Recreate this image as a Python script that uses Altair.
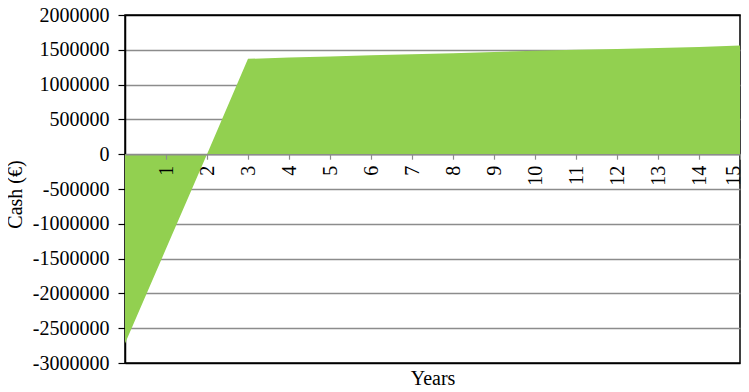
import altair as alt
import pandas as pd

years = [0, 1, 2, 3, 4, 5, 6, 7, 8, 9, 10, 11, 12, 13, 14, 15]
cash = [-2720000, -1360000, 0, 1370000, 1390000, 1405000, 1420000, 1435000,
        1450000, 1470000, 1485000, 1500000, 1510000, 1525000, 1540000, 1560000]
x_labels = [1, 2, 3, 4, 5, 6, 7, 8, 9, 10, 11, 12, 13, 14, 15]
y_ticks = [2000000, 1500000, 1000000, 500000, 0, -500000, -1000000,
           -1500000, -2000000, -2500000, -3000000]

df = pd.DataFrame({"Year": years, "Cash": cash})

W, H = 615, 348
y_min, y_max = -3000000, 2000000
zero_offset = -H * (0 - y_min) / (y_max - y_min)

FONT = "Liberation Serif"

grid_color = {
    "condition": {"test": f"datum.value == {y_max} || datum.value == {y_min}",
                  "value": "black"},
    "value": "#8c8c8c",
}
last_label_offset = {
    "condition": {"test": f"datum.value == {x_labels[-1]}", "value": -7},
    "value": 0,
}

chart = alt.Chart(df).mark_area(color="#92D050", opacity=1).encode(
    x=alt.X("Year:Q",
            scale=alt.Scale(domain=[0, 15], nice=False, zero=False),
            axis=alt.Axis(values=x_labels, labelAngle=270, offset=zero_offset,
                          tickSize=5, tickColor="#8c8c8c", domainColor="#8c8c8c",
                          domainWidth=1.5, tickWidth=1.2,
                          grid=False, labelFlush=False, labelOverlap=False,
                          labelOffset=last_label_offset,
                          labelPadding=6, labelFont=FONT, labelFontSize=20,
                          labelColor="black", zindex=1,
                          title="Years", titleFont=FONT, titleFontSize=20,
                          titleFontWeight="normal", titleColor="black",
                          titleY=230, titleBaseline="alphabetic")),
    y=alt.Y("Cash:Q",
            scale=alt.Scale(domain=[y_min, y_max], nice=False),
            axis=alt.Axis(values=y_ticks, labelExpr="'' + datum.value",
                          tickSize=7, tickColor="black", domainColor="black",
                          domainWidth=1.5, tickWidth=1.2,
                          grid=True, gridColor=grid_color, gridWidth=1.5,
                          labelPadding=9, labelFont=FONT, labelFontSize=20,
                          labelColor="black",
                          title="Cash (€)", titleFont=FONT, titleFontSize=20,
                          titleFontWeight="normal", titleColor="black",
                          titleAngle=270, titleX=-104, titleY=179,
                          titleAlign="center", titleBaseline="alphabetic")),
).properties(
    width=W, height=H,
    autosize=alt.AutoSizeParams(type="none"),
    padding={"left": 117, "top": 7, "right": 1, "bottom": 22},
).configure(
    background="white",
    view=alt.ViewConfig(stroke="black", strokeWidth=1.5),
)

chart.save("out.html", embed_options={"renderer": "svg", "actions": False})
